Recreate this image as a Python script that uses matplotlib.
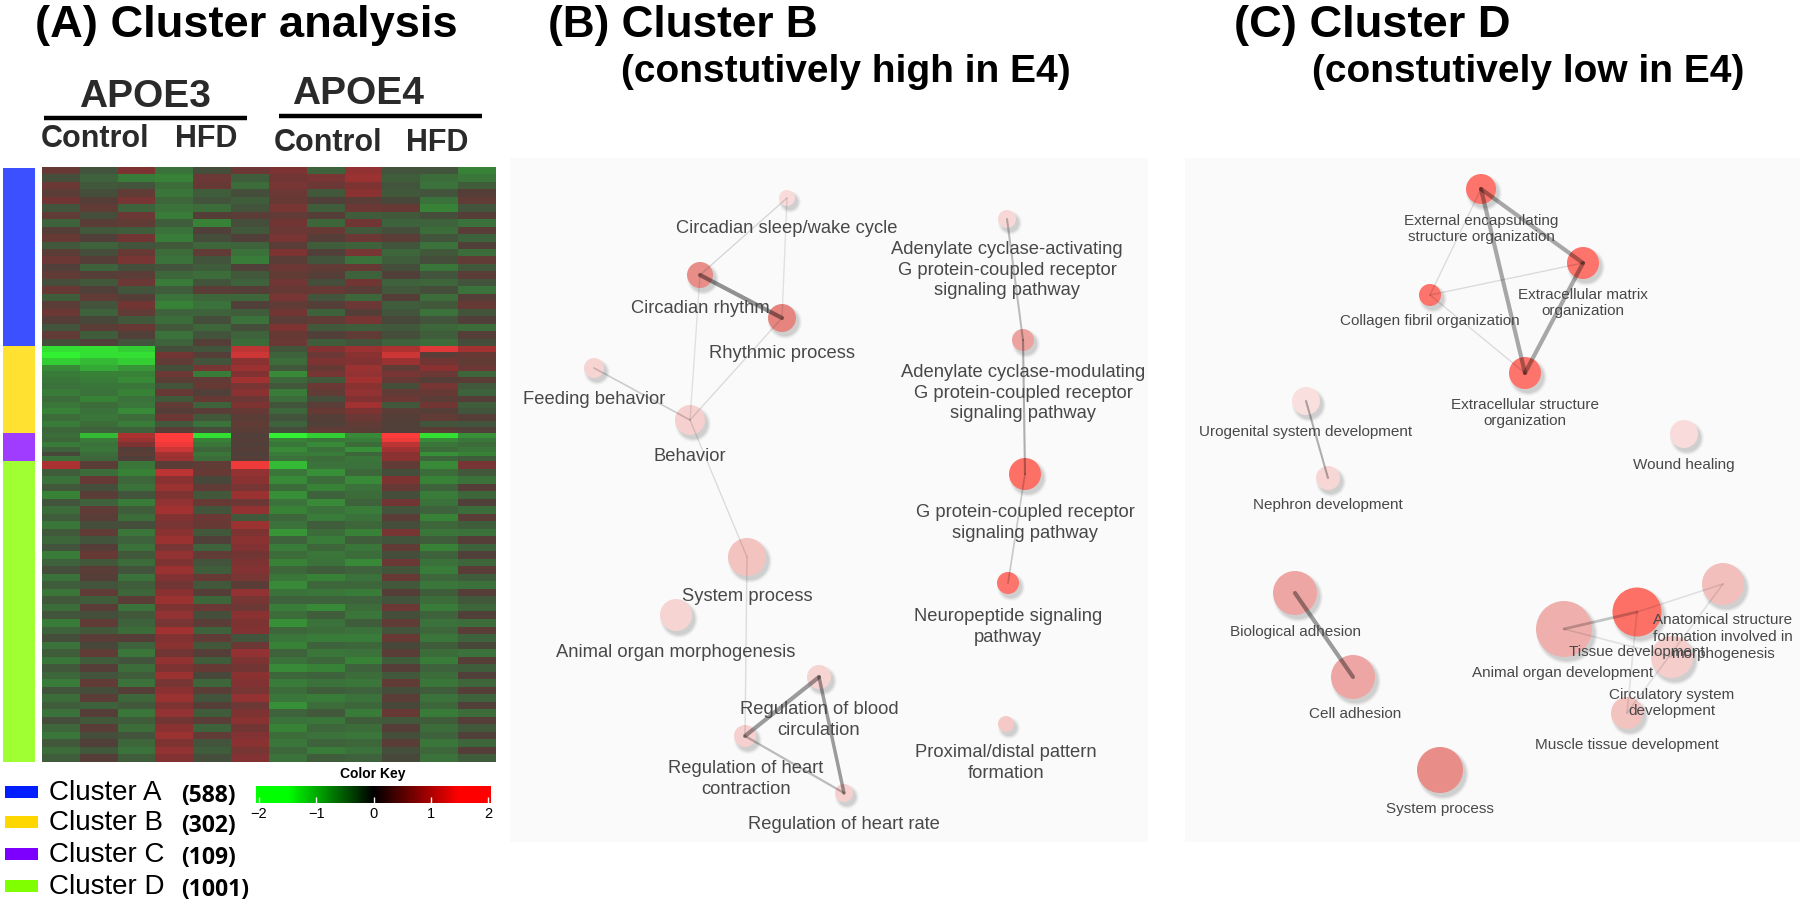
import numpy as np
import matplotlib
matplotlib.use('Agg')
import matplotlib.pyplot as plt
from matplotlib.colors import LinearSegmentedColormap
from matplotlib.patches import Circle, Rectangle

plt.rcParams['font.family'] = ['Liberation Sans', 'DejaVu Sans']

# heatmap rows, in tenths of the z score, 12 samples per row
cluster_a = [
    [5, -3, 9, -9, -2, 6, 9, -6, 12, -3, -3, -12],
    [-2, -6, -11, -12, 6, -5, 7, 8, 13, -5, -8, -10],
    [6, -4, -3, -8, 5, -8, 8, 6, 9, -3, -9, -5],
    [3, -2, 4, -10, -5, -2, 6, -4, 11, -4, -3, 2],
    [7, 2, 8, -7, -3, -5, 5, 1, 3, -1, -9, 4],
    [-3, 4, -6, -9, -8, -3, 8, -5, 6, 5, -12, -3],
    [4, -2, 6, -11, 2, 3, 4, 2, -5, -4, -2, 2],
    [-6, 3, 4, -5, -12, -2, 7, -7, 7, -6, -6, -9],
    [2, -4, -5, -9, 1, -4, 6, 5, -4, -2, -8, 3],
    [5, 1, 7, -11, -2, 1, 8, 2, 6, 3, -3, -6],
    [-4, -6, -3, -4, -7, -6, 3, -5, -6, -3, -9, 1],
    [3, -2, 5, -8, 4, -9, 9, 1, 8, -7, -4, -8],
    [6, 2, 8, -9, -3, -11, 3, -3, -9, -5, -2, 4],
    [1, -6, -2, -3, -5, 1, 6, 4, 5, -2, -10, -4],
    [4, 2, 3, -7, -8, -4, 4, 2, -6, 1, -3, 3],
    [-2, -4, 6, -11, -3, -6, 7, -2, 7, -6, -7, -3],
    [5, 1, -3, -5, 3, 2, 5, 5, 3, -4, -2, -9],
    [-5, 4, 2, -9, -7, -7, 8, -3, -7, 2, -8, 2],
    [3, -3, 7, -12, -9, 1, 4, 2, 6, -5, -4, 5],
    [6, -6, 4, -6, -6, -5, 7, -6, 2, -3, -9, -3],
    [2, -1, -4, -8, -2, -9, 3, 4, 8, -1, -3, 1],
    [-3, 3, 5, -4, -7, -2, 9, -4, -5, -4, -7, -8],
    [4, -5, 1, -9, -3, -6, 5, 1, 4, -2, -5, 2],
    [-2, 1, -3, -6, 2, -8, 6, -5, -3, -6, -8, -2],
]
cluster_b = [
    [-19, -19, -18, -2, -3, 16, -3, 10, 13, 15, 18, 14],
    [-20, -19, -19, 7, 2, 17, -6, 6, 11, 17, 3, 5],
    [-18, -17, -18, 4, -3, 11, -8, 9, 10, 13, 7, 4],
    [-13, -16, -15, -2, 8, 13, -4, 5, 13, 4, 11, 6],
    [-11, -12, -12, 6, -11, 10, -13, 8, 12, 8, 6, -7],
    [-10, -11, -13, 3, 4, 14, -7, -4, 14, 5, 2, 3],
    [-9, -10, -10, -3, 5, 8, -4, 6, 11, -2, 8, -4],
    [-11, -9, -12, 5, 1, 11, -11, 4, 12, 4, 5, -6],
    [-8, -12, -9, -4, 5, 6, -8, -2, 10, 6, 3, 2],
    [-10, -8, -10, 4, -6, 9, -3, 3, 14, -4, 7, -5],
    [-12, -9, -13, 2, 3, 5, -7, 5, 9, 3, 2, -3],
    [-8, -10, -8, 6, -4, 3, -3, 2, 6, 2, 4, 2],
    [-11, -8, -11, -4, -9, 4, -6, 1, 4, 1, -3, -3],
    [-7, -6, -6, 3, -2, 3, -2, 4, 3, 1, 3, 1],
]
cluster_c = [
    [-8, -17, 15, 20, -19, 1, -20, -18, -13, 20, -19, -14],
    [-7, -11, 13, 20, -12, 2, -12, -10, -11, 19, -13, -10],
    [-11, -9, 9, 19, -10, 1, -10, -13, -8, 16, -10, -8],
    [-6, -10, 2, 17, -7, 2, -13, -9, -14, 14, -8, -10],
    [-1, -8, 3, 14, -10, 1, -11, -11, -7, 11, -14, -12],
    [-9, -7, 1, 13, -8, 2, -9, -8, -10, 11, -7, -5],
]
cluster_d = [
    [15, 3, -10, 3, 4, 19, -17, -9, -9, 4, -13, 8],
    [-5, -8, -12, 16, 5, 12, -10, -14, -7, -2, -8, -4],
    [-9, 5, -7, 11, -1, 11, -13, -8, -13, 9, -12, -9],
    [-4, -2, -9, 13, 4, 8, -8, -12, -9, 5, -6, 2],
    [-12, 3, -3, 9, -4, 13, -14, -6, -8, -2, -11, -7],
    [-3, -6, -11, 12, 5, 6, -9, -13, -6, 7, -9, 1],
    [-8, 4, -5, 14, -3, 12, -12, -9, -11, -3, -6, -8],
    [-5, 3, -8, 10, 6, -4, -7, -11, -9, 3, -12, 3],
    [-10, -2, -2, 8, 5, 13, -9, -5, -7, -2, -7, -5],
    [-4, 4, -10, 11, -4, 9, -15, -8, -12, 8, -10, -9],
    [-7, -3, -6, 13, 1, 11, -6, -11, -5, -3, -5, 2],
    [-3, 2, -9, 8, -6, 10, -11, -7, -10, 4, -12, -6],
    [-11, 5, -4, 12, 4, 7, -8, -10, -8, -2, -6, 1],
    [-6, -4, -8, 9, -3, 9, -12, -9, -13, 6, -9, -7],
    [-2, 3, -3, 13, -5, 10, -7, -5, -6, -3, -11, 3],
    [-9, 2, -9, 10, 5, 8, -10, -12, -9, 5, -7, -5],
    [-5, -3, -5, 7, -4, 3, -13, -7, -7, -4, -10, -9],
    [-10, 4, -7, 11, 2, 12, -9, -10, -11, 2, -5, 2],
    [-4, -5, 3, 13, -7, 8, -6, -6, -6, -3, -8, -4],
    [-8, 3, -9, 9, 6, 6, -11, -13, -8, 6, -11, -7],
    [-3, -2, -4, 12, -2, 11, -8, -5, -10, -2, -6, 1],
    [-11, 4, -6, 8, 3, 9, -14, -9, -5, 4, -9, -8],
    [-6, -4, -8, 14, -6, 10, -7, -8, -9, -3, -7, 3],
    [-2, 3, 2, 10, 4, -3, -10, -11, -11, 5, -10, -6],
    [-9, -1, -6, 11, -4, 6, -12, -6, -7, -1, -5, -1],
    [-5, 4, -10, 7, 2, 12, -6, -10, -9, 3, -8, -9],
    [-10, -5, -3, 12, -5, 9, -9, -7, -12, -5, -11, 2],
    [-4, 2, -8, 9, 5, 7, -13, -12, -6, 2, -6, -5],
    [-7, -3, -5, 13, -1, 11, -7, -6, -8, -4, -8, 1],
    [-11, 4, -9, 8, -7, 10, -11, -9, -10, 4, -10, -7],
    [-3, -2, 2, 11, 3, 8, -8, -5, -6, -2, -5, 2],
    [-8, 3, -7, 13, -3, 12, -10, -11, -9, 3, -9, -6],
    [-5, -6, -4, 9, 2, 6, -14, -8, -7, -1, -7, 1],
    [-9, 2, -10, 12, -5, 9, -6, -4, -11, 5, -11, -8],
    [-2, -4, -5, 7, 3, 11, -9, -10, -5, -4, -5, 2],
    [-7, 3, -8, 11, -6, 7, -12, -7, -8, 2, -8, -4],
    [-10, -2, -3, 13, 4, 10, -8, -9, -10, -2, -6, 1],
    [-4, 1, -7, 9, -3, 11, -10, -6, -7, 3, -10, -7],
    [-8, -4, -9, 12, -5, 8, -7, -11, -9, -2, -7, 2],
    [-5, 2, -5, 10, -2, 10, -9, -5, -6, -1, -9, -5],
]

sample_col = ['Control', 'HFD', 'Control', 'HFD']
cluster_names = ['Cluster A', 'Cluster B', 'Cluster C', 'Cluster D']
cluster_counts = ['(588)', '(302)', '(109)', '(1001)']
key_ticks = [-2, -1, 0, 1, 2]

# panel B network
b_labels = ['Circadian sleep/wake cycle', 'Circadian rhythm', 'Rhythmic process', 'Feeding behavior',
            'Behavior', 'System process', 'Animal organ morphogenesis',
            'Regulation of blood\ncirculation', 'Regulation of heart\ncontraction', 'Regulation of heart rate',
            'Adenylate cyclase-activating\nG protein-coupled receptor\nsignaling pathway',
            'Adenylate cyclase-modulating\nG protein-coupled receptor\nsignaling pathway',
            'G protein-coupled receptor\nsignaling pathway', 'Neuropeptide signaling\npathway',
            'Proximal/distal pattern\nformation']
b_x = [787, 700, 782, 594, 690, 747, 676, 819, 745, 844, 1007, 1023, 1025, 1008, 1006]
b_y = [198, 275, 318, 368, 420, 557, 615, 677, 736, 793, 219, 340, 474, 583, 724]
b_r = [8, 13, 14, 10, 15, 19, 16, 12, 11, 9, 9, 11, 16, 11, 8]
b_strength = [.25, .8, .85, .3, .33, .42, .3, .3, .33, .33, .27, .65, 1, .97, .38]
b_label_x = [787, 700, 782, 594, 690, 747, 676, 819, 746, 844, 1007, 1023, 1025, 1008, 1006]
b_label_y = [228, 308, 353, 399, 456, 596, 652, 720, 779, 824, 270, 393, 523, 627, 763]
b_edges = [(0, 1, 1, .14), (0, 2, 1, .1), (1, 2, 3, .42), (1, 4, 1, .1), (2, 4, 1, .12), (3, 4, 1.2, .18),
           (4, 5, 1, .12), (5, 8, 1, .12), (7, 8, 3, .38), (7, 9, 2.5, .38), (8, 9, 1.6, .25),
           (10, 11, 1.5, .25), (11, 12, 1.5, .3), (12, 13, 1.2, .2)]

# panel C network
c_labels = ['External encapsulating\nstructure organization', 'Extracellular matrix\norganization',
            'Collagen fibril organization', 'Extracellular structure\norganization',
            'Urogenital system development', 'Nephron development', 'Wound healing',
            'Biological adhesion', 'Cell adhesion', 'System process', 'Animal organ development',
            'Tissue development', 'Anatomical structure\nformation involved in\nmorphogenesis',
            'Circulatory system\ndevelopment', 'Muscle tissue development']
c_x = [1481, 1583, 1430, 1525, 1306, 1328, 1684, 1295, 1353, 1440, 1564, 1637, 1723, 1672, 1627]
c_y = [189, 263, 295, 373, 401, 478, 434, 593, 677, 770, 629, 612, 584, 657, 713]
c_r = [15, 16, 11, 16, 14, 12, 14, 22, 22, 23, 28, 24.5, 21, 21, 16]
c_strength = [.97, .97, .97, .97, .22, .28, .25, .62, .62, .8, .55, 1, .45, .35, .42]
c_label_x = [1481, 1583, 1430, 1525, 1306, 1328, 1684, 1295, 1355, 1440, 1563, 1637, 1723, 1672, 1627]
c_label_y = [229, 303, 321, 413, 432, 505, 465, 632, 714, 809, 673, 652, 637, 703, 745]
c_edges = [(0, 1, 3, .33), (0, 3, 3, .33), (1, 3, 3, .33), (0, 2, 1, .12), (1, 2, 1, .12), (2, 3, 1, .12),
           (4, 5, 1.5, .3), (7, 8, 3, .38), (10, 11, 2, .22), (11, 12, 1.2, .1), (10, 13, 1.2, .1),
           (11, 14, 1.2, .1), (12, 14, 1.2, .1)]

heat_cmap = LinearSegmentedColormap.from_list('heat', [
    (0.0, (50/255, 240/255, 50/255)), (0.125, (55/255, 150/255, 55/255)), (0.25, (58/255, 118/255, 58/255)),
    (0.42, (66/255, 85/255, 60/255)), (0.5, (75/255, 66/255, 58/255)), (0.75, (130/255, 50/255, 50/255)),
    (0.875, (170/255, 50/255, 50/255)), (1.0, (255/255, 60/255, 60/255))])
key_cmap = LinearSegmentedColormap.from_list('key', [
    (0.0, (0, 1, 0)), (0.125, (0, 1, 0)), (0.5, (0, 0, 0)), (0.875, (1, 0, 0)), (1.0, (1, 0, 0))])

fig = plt.figure(figsize=(18, 9.05), dpi=100)
ax = fig.add_axes([0, 0, 1, 1])
ax.set_xlim(0, 1800)
ax.set_ylim(905, 0)
ax.axis('off')

# panel A heatmap and side bar
heat_blocks = [cluster_a, cluster_b, cluster_c, cluster_d]
block_edges = [168, 346, 433, 461, 762]
side_colors = ['#3c50ff', '#ffe132', '#a03cff', '#a0ff32']
for i, rows in enumerate(heat_blocks):
    vals = np.array(rows) / 10
    ax.imshow(vals, cmap=heat_cmap, vmin=-2, vmax=2, aspect='auto', interpolation='nearest',
              extent=(42, 496, block_edges[i + 1], block_edges[i]), zorder=2)
    ax.add_patch(Rectangle((3, block_edges[i]), 31.5, block_edges[i + 1] - block_edges[i],
                           fc=side_colors[i], ec='none'))
ax.set_xlim(0, 1800)
ax.set_ylim(905, 0)

title_kw = dict(fontweight='bold', color='black', va='center', ha='left')
ax.text(35, 25, '(A) Cluster analysis', fontsize=32.6, **title_kw)
ax.text(548, 25, '(B) Cluster B', fontsize=31.8, **title_kw)
ax.text(621, 72, '(constutively high in E4)', fontsize=28, **title_kw)
ax.text(1234, 25, '(C) Cluster D', fontsize=32.6, **title_kw)
ax.text(1312, 72, '(constutively low in E4)', fontsize=28, **title_kw)

head_kw = dict(fontweight='bold', color='#2a2a2a', va='center', ha='center')
ax.text(145, 97, 'APOE3', fontsize=28, **head_kw)
ax.text(358, 94, 'APOE4', fontsize=28, **head_kw)
ax.plot([44, 247], [118, 118], color='black', lw=3.2, solid_capstyle='butt')
ax.plot([279, 482], [116.5, 116.5], color='black', lw=3.2, solid_capstyle='butt')
for name, xc, yc in zip(sample_col, [95, 206, 328, 437], [139, 139, 143, 143]):
    ax.text(xc, yc, name, fontsize=22, **head_kw)

# legend under the heatmap
legend_colors = ['#001eff', '#ffd700', '#7d00ff', '#7fff00']
legend_y = [792, 822, 854, 886]
for name, count, col, yc in zip(cluster_names, cluster_counts, legend_colors, legend_y):
    ax.add_patch(Rectangle((5, yc - 6), 33, 12, fc=col, ec='none'))
    ax.text(49, yc + 1, name, fontsize=20, color='black', va='center', ha='left')
    ax.text(181, yc + 4, count, fontsize=16.5, fontweight='bold', family=['Open Sans', 'DejaVu Sans'],
            color='black', va='center', ha='left')


def draw_network(labels, xs, ys, rs, strengths, label_xs, label_ys, edges, fs):
    for x, y, r, s in zip(xs, ys, rs, strengths):
        for grow, a in [(3, .03), (2, .04), (1, .05), (0, .06)]:
            ax.add_patch(Circle((x + 3, y + 4), r + grow, fc='black', ec='none', alpha=a, zorder=3))
        base = np.array([252, 112, 102]) if s >= .95 else np.array([226, 112, 106])
        col = 255 * (1 - s) + base * s
        ax.add_patch(Circle((x, y), r, fc=col / 255, ec='none', zorder=4))
    for a, b, w, al in edges:
        ax.plot([xs[a], xs[b]], [ys[a], ys[b]], color='black', lw=w, alpha=al, zorder=5,
                solid_capstyle='round')
    for text, x, y in zip(labels, label_xs, label_ys):
        ax.text(x, y, text, fontsize=fs, color='#484848', ha='center', va='center',
                linespacing=1.27, zorder=6)


ax.add_patch(Rectangle((510, 158), 638, 684, fc='#fafafa', ec='none', zorder=1))
ax.add_patch(Rectangle((1185, 158), 615, 684, fc='#fafafa', ec='none', zorder=1))
draw_network(b_labels, b_x, b_y, b_r, b_strength, b_label_x, b_label_y, b_edges, 13.2)
draw_network(c_labels, c_x, c_y, c_r, c_strength, c_label_x, c_label_y, c_edges, 11)

# colour key
key = fig.add_axes([256 / 1800, 1 - 803 / 905, 235 / 1800, 17 / 905])
key.imshow(np.linspace(-2.05, 2.05, 256).reshape(1, -1), cmap=key_cmap, vmin=-2, vmax=2, aspect='auto',
           extent=(-2.05, 2.05, 0, 1))
key.set_xticks(key_ticks)
key.set_xticklabels(['\u22122', '\u22121', '0', '1', '2'], fontsize=10.5)
key.set_yticks([])
key.tick_params(axis='x', length=4, width=1, color='white', direction='in', pad=3)
for sp in key.spines.values():
    sp.set_visible(False)
ax.text(373, 774, 'Color Key', fontsize=10, fontweight='bold', color='black', ha='center', va='center')

fig.savefig('out.png', dpi=100)
